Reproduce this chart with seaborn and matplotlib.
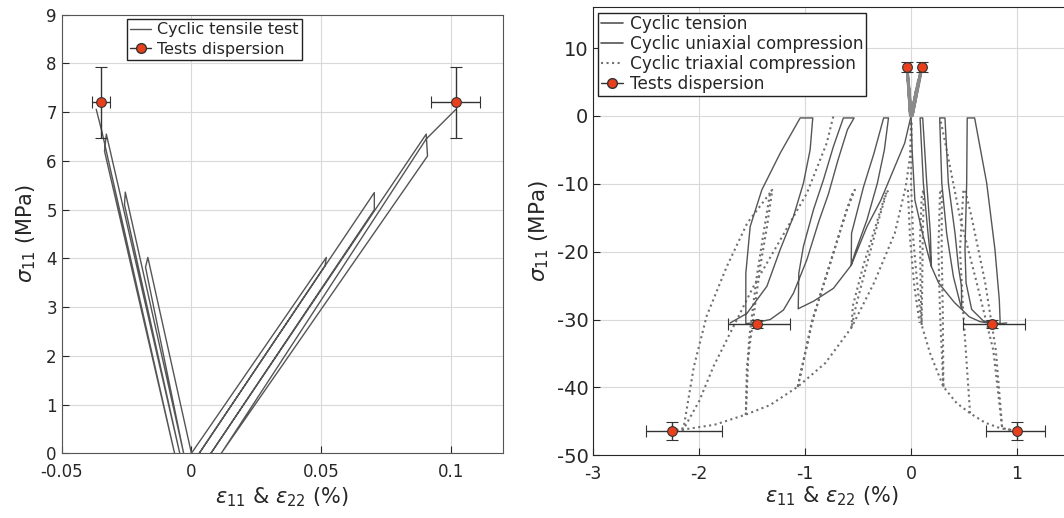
import matplotlib
matplotlib.use('Agg')
import matplotlib.pyplot as plt
from matplotlib.lines import Line2D
import seaborn as sns

# ---------------- data (strain in %, stress in MPa) ----------------
# cyclic tensile test: eps11 (positive) and eps22 (negative)
ten11_x = [0, 0.052, 0.0515, 0.003, 0.0705, 0.0705, 0.0075, 0.0905, 0.091, 0.0115, 0.0905, 0.1018]
ten11_y = [0, 4.02, 3.85, 0, 5.35, 5.0, 0, 6.55, 6.1, 0, 6.45, 7.05]
ten22_x = [0, -0.0168, -0.0177, -0.003, -0.0255, -0.0258, -0.0045, -0.0328, -0.0335, -0.0065, -0.0345, -0.0367]
ten22_y = [0, 4.02, 3.82, 0, 5.36, 5.1, 0, 6.55, 6.2, 0, 6.6, 7.06]

# tests dispersion for tension
ten_pt_x = [-0.0349, 0.1018]
ten_pt_y = [7.2, 7.2]
ten_pt_xerr = [0.0035, 0.0096]
ten_pt_yerr = [0.73, 0.73]

# tests dispersion for compression
comp_pt_x = [-1.456, 0.767, -2.258, 0.997]
comp_pt_y = [-30.6, -30.6, -46.4, -46.4]
comp_xerr_lo = [0.27, 0.28, 0.24, 0.29]
comp_xerr_hi = [0.31, 0.31, 0.47, 0.27]
comp_yerr = [0.6, 0.6, 1.3, 1.3]

# cyclic uniaxial compression, axial strain
uni_ax1_x = [0, -0.06, -0.154, -0.285, -0.416, -0.565, -0.562, -0.448, -0.35, -0.259, -0.213,
             -0.252, -0.318, -0.416, -0.53, -0.565, -0.733, -0.921, -1.065]
uni_ax1_y = [0, -4.0, -7.5, -12.4, -16.3, -22.0, -17.3, -10.4, -5.5, -0.3, -0.3,
             -5.0, -9.9, -15.3, -20.2, -22.0, -25.4, -27.3, -28.4]
uni_ax2_x = [-1.065, -1.06, -1.016, -0.921, -0.827, -0.733, -0.639, -0.538, -0.6, -0.69, -0.78,
             -0.87, -0.984, -1.11, -1.205, -1.33, -1.456, -1.56, -1.56, -1.519, -1.409, -1.236,
             -1.047, -0.928, -0.953, -1.016, -1.11, -1.236, -1.361, -1.55, -1.708]
uni_ax2_y = [-28.4, -23.2, -19.2, -13.8, -9.4, -4.5, -0.3, -0.3, -2.0, -6.5, -11.5,
             -15.5, -21.2, -26.1, -28.6, -30.0, -30.4, -30.6, -23.2, -16.3, -10.9, -5.5,
             -0.3, -0.3, -5.0, -9.9, -14.8, -19.7, -25.1, -29.1, -30.5]
# cyclic uniaxial compression, lateral strain
uni_lat1_x = [0, 0.01, 0.036, 0.116, 0.192, 0.16, 0.116, 0.085, 0.11, 0.148, 0.182, 0.192,
              0.26, 0.337, 0.41, 0.478]
uni_lat1_y = [0, -5, -12.4, -17.8, -22.2, -17.3, -9.9, -0.3, -0.3, -9.9, -17.3, -22.2,
              -24.6, -26.1, -27.5, -28.5]
uni_lat2_x = [0.478, 0.475, 0.447, 0.415, 0.352, 0.32, 0.27, 0.29, 0.336, 0.4, 0.478, 0.55,
              0.65, 0.76, 0.84, 0.84, 0.833, 0.792, 0.714, 0.60, 0.53, 0.525, 0.509, 0.519,
              0.572, 0.682, 0.84, 0.903]
uni_lat2_y = [-28.5, -25, -22.2, -17.3, -9.9, -0.3, -0.3, -9.9, -17.3, -23.7, -28.5, -29.6,
              -30.3, -30.6, -30.6, -30.0, -27.1, -19.7, -9.9, -0.3, -0.3, -9.9, -19.7, -24.6,
              -28.5, -30.2, -30.6, -30.5]

# cyclic triaxial compression, axial strain
tri_ax_env_x = [0.0, -0.01, -0.05, -0.154, -0.35, -0.563, -0.809, -1.07, -1.332, -1.56, -1.856, -2.15, -2.27]
tri_ax_env_y = [-1.0, -6, -10.4, -17.3, -24.6, -31.2, -36.4, -39.9, -42.6, -44.0, -45.5, -46.2, -46.4]
tri_ax_l1_x = [-0.563, -0.55, -0.45, -0.33, -0.24, -0.21, -0.23, -0.30, -0.42, -0.52, -0.563]
tri_ax_l1_y = [-31.2, -28, -22, -16, -11.5, -11.0, -11.2, -15, -22, -28, -31.2]
tri_ax_l2_x = [-1.07, -0.921, -0.733, -0.607, -0.53, -0.545, -0.62, -0.75, -0.94, -1.07]
tri_ax_l2_y = [-39.9, -29.6, -20.2, -13.8, -10.9, -11.0, -14.5, -21, -30.5, -39.9]
tri_ax_l3_x = [-1.56, -1.55, -1.487, -1.424, -1.36, -1.31, -1.33, -1.39, -1.46, -1.53, -1.56]
tri_ax_l3_y = [-44.0, -36.9, -29.6, -22.2, -16.3, -10.9, -11.2, -17.0, -24.0, -33, -44.0]
tri_ax_re_x = [-2.27, -2.148, -2.05, -1.93, -1.74, -1.547, -1.31]
tri_ax_re_y = [-46.4, -46.0, -36.9, -29.5, -22.2, -15.8, -10.9]
tri_ax_un_x = [-2.27, -2.15, -2.0, -1.865, -1.676, -1.487, -1.236, -0.984, -0.796, -0.733]
tri_ax_un_y = [-46.4, -46.2, -42.0, -36.9, -31.0, -25.1, -18.3, -11.4, -4.0, 0.0]
# cyclic triaxial compression, lateral strain
tri_lat_env_x = [0.005, 0.0, 0.02, 0.06, 0.10, 0.18, 0.305, 0.43, 0.557, 0.7, 0.84, 0.997]
tri_lat_env_y = [-1.0, -10, -18, -25, -30.8, -35, -39.9, -42.3, -43.8, -45.2, -46.0, -46.4]
tri_lat_l0_x = [-0.03, -0.01, 0.03, 0.08]
tri_lat_l0_y = [-10.9, -18, -25, -30.5]
tri_lat_l1_x = [0.10, 0.09, 0.085, 0.10, 0.116, 0.12, 0.11, 0.105, 0.10]
tri_lat_l1_y = [-30.8, -25, -18, -12, -10.9, -11.5, -18, -25, -30.8]
tri_lat_l2_x = [0.305, 0.274, 0.258, 0.274, 0.29, 0.289, 0.30, 0.305]
tri_lat_l2_y = [-39.9, -29.4, -19.7, -10.9, -10.9, -19.7, -29.4, -39.9]
tri_lat_l3_x = [0.557, 0.494, 0.462, 0.494, 0.51, 0.57, 0.70, 0.80, 0.85, 0.86]
tri_lat_l3_y = [-43.8, -29.4, -19.7, -10.9, -10.9, -14.8, -24.6, -34.5, -44.0, -46.0]
tri_lat_un_x = [0.997, 0.86, 0.776, 0.62, 0.46, 0.336, 0.274]
tri_lat_un_y = [-46.4, -46.0, -34.5, -24.6, -14.8, -5.0, -0.3]

# ---------------- style ----------------
sns.set_style('whitegrid', {'grid.color': '#d9d9d9', 'axes.edgecolor': '#555555'})
plt.rcParams['font.family'] = ['DejaVu Sans']
plt.rcParams['mathtext.fontset'] = 'dejavusans'

LINE = '#555555'
TENS = '#8a8a8a'
DOT = '#707070'
RED = '#e8401c'

fig = plt.figure(figsize=(10.64, 5.18), dpi=100)
ax1 = fig.add_axes([0.058, 0.1249, 0.4145, 0.8467])
ax2 = fig.add_axes([0.5576, 0.121, 0.448, 0.8649])


def curve(ax, xs, ys, color, lw=1.0, ls='-'):
    sns.lineplot(x=xs, y=ys, ax=ax, sort=False, estimator=None,
                 color=color, lw=lw, linestyle=ls)


def dispersion(ax, xs, ys, xerr, yerr):
    ax.errorbar(xs, ys, xerr=xerr, yerr=yerr, fmt='o', color='#333333', ecolor='#333333',
                elinewidth=1.0, capsize=4, markersize=7, markerfacecolor=RED,
                markeredgecolor='#333333', markeredgewidth=0.8, zorder=5)


# ---- left: cyclic tensile test ----
curve(ax1, ten11_x, ten11_y, LINE, lw=1.0)
curve(ax1, ten22_x, ten22_y, LINE, lw=1.0)
dispersion(ax1, ten_pt_x, ten_pt_y, ten_pt_xerr, ten_pt_yerr)

ax1.set_xlim(-0.05, 0.12)
ax1.set_ylim(0, 9)
ax1.set_xticks([-0.05, 0, 0.05, 0.1])
ax1.set_xticklabels(['-0.05', '0', '0.05', '0.1'])
ax1.set_yticks(range(0, 10))
ax1.tick_params(labelsize=12, direction='in', length=5, colors='#262626',
                left=True, bottom=True)
ax1.tick_params(axis='x', pad=7)
ax1.set_xlabel(r'$\epsilon_{11}$ & $\epsilon_{22}$ (%)', fontsize=15, color='#262626', labelpad=3)
ax1.set_ylabel(r'$\sigma_{11}$ (MPa)', fontsize=15, color='#262626', labelpad=6)

h1 = [Line2D([], [], color=LINE, lw=1.0),
      Line2D([], [], color='#333333', lw=1.0, marker='o', markersize=7,
             markerfacecolor=RED, markeredgecolor='#333333')]
leg1 = ax1.legend(h1, ['Cyclic tensile test', 'Tests dispersion'], loc='upper left',
                  bbox_to_anchor=(0.148, 0.99), fontsize=11.5, frameon=True, fancybox=False,
                  framealpha=1, edgecolor='#222222', handlelength=1.3, handletextpad=0.4,
                  borderpad=0.2, labelspacing=0.28, borderaxespad=0)
leg1.get_frame().set_linewidth(1.0)

# ---- right: all tests ----
for xs, ys in [(tri_ax_env_x, tri_ax_env_y), (tri_ax_l1_x, tri_ax_l1_y),
               (tri_ax_l2_x, tri_ax_l2_y), (tri_ax_l3_x, tri_ax_l3_y),
               (tri_ax_re_x, tri_ax_re_y), (tri_ax_un_x, tri_ax_un_y),
               (tri_lat_env_x, tri_lat_env_y), (tri_lat_l0_x, tri_lat_l0_y),
               (tri_lat_l1_x, tri_lat_l1_y), (tri_lat_l2_x, tri_lat_l2_y),
               (tri_lat_l3_x, tri_lat_l3_y), (tri_lat_un_x, tri_lat_un_y)]:
    curve(ax2, xs, ys, DOT, lw=1.5, ls=':')
for xs, ys in [(uni_ax1_x, uni_ax1_y), (uni_ax2_x, uni_ax2_y),
               (uni_lat1_x, uni_lat1_y), (uni_lat2_x, uni_lat2_y)]:
    curve(ax2, xs, ys, LINE, lw=1.0)
curve(ax2, ten11_x, ten11_y, TENS, lw=2.0)
curve(ax2, ten22_x, ten22_y, TENS, lw=2.0)
dispersion(ax2, ten_pt_x, ten_pt_y, None, ten_pt_yerr)
dispersion(ax2, comp_pt_x, comp_pt_y, [comp_xerr_lo, comp_xerr_hi], comp_yerr)

ax2.set_xlim(-3, 1.5)
ax2.set_ylim(-50, 16)
ax2.set_xticks([-3, -2, -1, 0, 1])
ax2.set_xticklabels(['-3', '-2', '-1', '0', '1'])
ax2.set_yticks([-50, -40, -30, -20, -10, 0, 10])
ax2.set_yticklabels(['-50', '-40', '-30', '-20', '-10', '0', '10'])
ax2.tick_params(axis='x', labelsize=12.5, pad=7)
ax2.tick_params(axis='y', labelsize=14)
ax2.tick_params(direction='in', length=5, colors='#262626', left=True, bottom=True)
for sp in ax2.spines.values():
    sp.set_color('#262626')
ax2.set_xlabel(r'$\epsilon_{11}$ & $\epsilon_{22}$ (%)', fontsize=15, color='#262626', labelpad=1)
ax2.set_ylabel(r'$\sigma_{11}$ (MPa)', fontsize=15.5, color='#262626', labelpad=4)

h2 = [Line2D([], [], color=LINE, lw=1.2),
      Line2D([], [], color=LINE, lw=1.2),
      Line2D([], [], color=DOT, lw=1.5, ls=':'),
      Line2D([], [], color='#333333', lw=1.0, marker='o', markersize=7,
             markerfacecolor=RED, markeredgecolor='#333333')]
leg2 = ax2.legend(h2, ['Cyclic tension', 'Cyclic uniaxial compression',
                       'Cyclic triaxial compression', 'Tests dispersion'],
                  loc='upper left', bbox_to_anchor=(0.0105, 0.988), fontsize=12.2,
                  frameon=True, fancybox=False, framealpha=1, edgecolor='#222222',
                  handlelength=1.3, handletextpad=0.4, borderpad=0.15, labelspacing=0.12,
                  borderaxespad=0)
leg2.get_frame().set_linewidth(1.0)

fig.savefig('out.png', dpi=100)
